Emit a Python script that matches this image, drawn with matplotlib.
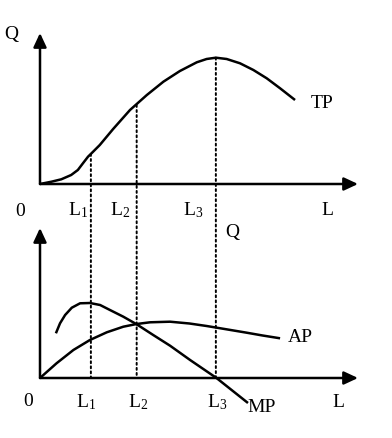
import numpy as np
import matplotlib
matplotlib.use("Agg")
import matplotlib.pyplot as plt
from matplotlib.patches import ConnectionPatch

plt.rcParams['font.family'] = ['Liberation Serif', 'DejaVu Serif']
plt.rcParams['mathtext.fontset'] = 'custom'
plt.rcParams['mathtext.rm'] = 'Liberation Serif'
plt.rcParams['mathtext.it'] = 'Liberation Serif'

# curves (L on x, output on y)
tp_L = [0, 0.36, 0.67, 0.98, 1.19, 1.35, 1.51, 1.67, 1.88, 2.3, 2.83, 3.36, 3.88, 4.4, 4.93,
        5.24, 5.53, 5.87, 6.29, 6.71, 7.13, 7.55, 8.02]
tp_Q = [0, 0.23, 0.47, 0.9, 1.4, 2.07, 2.73, 3.23, 3.9, 5.5, 7.4, 8.9, 10.23, 11.3, 12.17,
        12.5, 12.63, 12.5, 12.07, 11.4, 10.57, 9.57, 8.4]

ap_L = [0, 0.52, 1.05, 1.57, 2.1, 2.62, 3.04, 3.46, 4.09, 4.7, 5.24, 5.9, 6.5, 7.0, 7.55]
ap_Q = [0, 1.47, 2.8, 3.8, 4.57, 5.13, 5.4, 5.57, 5.63, 5.45, 5.2, 4.85, 4.53, 4.25, 3.97]

mp_L = [0.5, 0.63, 0.79, 1.0, 1.26, 1.57, 1.89, 2.2, 2.62, 3.04, 3.56, 4.09, 4.72, 5.55, 6.54]
mp_Q = [4.47, 5.47, 6.3, 7.03, 7.47, 7.5, 7.3, 6.8, 6.13, 5.37, 4.3, 3.23, 1.8, 0.0, -2.5]

marks = [1.6, 3.04, 5.53]          # L1, L2, L3
tp_marks = [3.0, 7.9, 12.63]       # TP at the marks
mark_names = [r'$\mathregular{L_1}$', r'$\mathregular{L_2}$', r'$\mathregular{L_3}$']

fig = plt.figure(figsize=(3.92, 4.38), dpi=100)
W, H = 392.0, 438.0
ax1 = fig.add_axes([40 / W, 1 - 184 / H, 318 / W, 151 / H])
ax2 = fig.add_axes([40 / W, 1 - 408 / H, 318 / W, 180 / H])
ax1.set_xlim(0, 10)
ax1.set_ylim(0, 15.1)
ax2.set_xlim(0, 10)
ax2.set_ylim(-3, 15)

arrow = dict(arrowstyle='-|>,head_length=0.6,head_width=0.28', lw=1.8, color='black',
             mutation_scale=14, shrinkA=0, shrinkB=0)
for ax, ytop in ((ax1, 15.1), (ax2, 15.0)):
    ax.axis('off')
    ax.annotate('', xy=(10, 0), xytext=(0, 0), arrowprops=arrow, annotation_clip=False)
    ax.annotate('', xy=(0, ytop), xytext=(0, 0), arrowprops=arrow, annotation_clip=False)

line = dict(color='black', lw=1.8, solid_capstyle='butt', solid_joinstyle='round', clip_on=False)
ax1.plot(tp_L, tp_Q, **line)
ax2.plot(ap_L, ap_Q, **line)
ax2.plot(mp_L, mp_Q, **line)

# dotted guides from TP down to the lower L axis
for L, q in zip(marks, tp_marks):
    con = ConnectionPatch(xyA=(L, q), coordsA=ax1.transData, xyB=(L, 0), coordsB=ax2.transData,
                          linestyle=(0, (1, 1.6)), lw=1.4, color='black')
    fig.add_artist(con)

fs = 14
ax1.text(-0.91, 14.9, 'Q', fontsize=fs, ha='center', va='center')
ax1.text(-0.63, -2.7, '0', fontsize=fs, ha='center', va='center')
for x, name in zip([0.88, 2.2, 4.5], mark_names):
    ax1.text(x, -3.1, name, fontsize=fs, ha='left', va='baseline')
ax1.text(9.03, -3.1, 'L', fontsize=fs, ha='center', va='baseline')
ax1.text(8.87, 8.0, 'TP', fontsize=fs, ha='center', va='center')

ax2.text(6.04, 14.6, 'Q', fontsize=fs, ha='center', va='center')
ax2.text(-0.38, -2.4, '0', fontsize=fs, ha='center', va='center')
for x, name in zip([1.13, 2.77, 5.25], mark_names):
    ax2.text(x, -2.9, name, fontsize=fs, ha='left', va='baseline')
ax2.text(9.37, -2.9, 'L', fontsize=fs, ha='center', va='baseline')
ax2.text(8.18, 4.1, 'AP', fontsize=fs, ha='center', va='center')
ax2.text(6.98, -3.0, 'MP', fontsize=fs, ha='center', va='center')

fig.savefig('out.png', dpi=100, facecolor='white')
